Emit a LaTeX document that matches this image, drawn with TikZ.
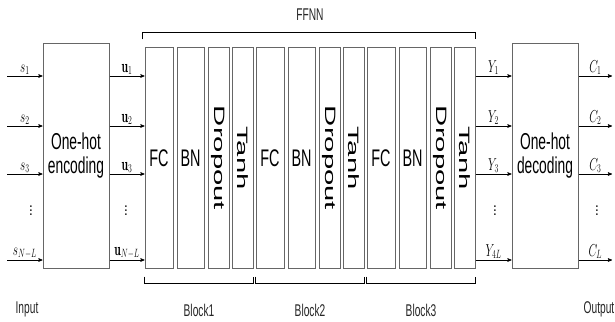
\documentclass[tikz,border=0pt]{standalone}
\usepackage{fontspec}
\usepackage{graphicx}
\usetikzlibrary{arrows,calc}
\newfontfamily\narrowsf[FakeStretch=0.6]{Liberation Sans}
\newfontfamily\tallsf[FakeStretch=1.95]{Liberation Sans}
\newcommand{\lbl}[1]{\scalebox{0.65}[1]{$#1$}}

\begin{document}
\begin{tikzpicture}[x=1pt,y=-1pt,>=stealth',semithick,
  box/.style={draw=black!60,line width=1pt,inner sep=0pt,minimum height=224pt,align=center,font=\fontsize{23}{24}\narrowsf},
  layer/.style={draw=black!60,line width=1pt,inner sep=0pt,minimum height=220pt,font=\fontsize{24}{24}\narrowsf},
  vlayer/.style={layer,font=\fontsize{15}{15}\tallsf},
  lab/.style={inner sep=1pt,font=\fontsize{18}{18}\selectfont},
  dots/.style={inner sep=0pt,font=\fontsize{21}{21}\selectfont},
  txt/.style={inner sep=0pt,text=black!85,font=\fontsize{17}{17}\narrowsf}]
		\useasboundingbox (0,0) rectangle (615,321);
		\node[box,minimum width=66pt] (enc) at (76,156) {One-hot\\encoding};
		\node[box,minimum width=66pt] (dec) at (545,156) {One-hot\\decoding};
		
		% three blocks of layers
		\foreach \b in {1,2,3} {
			\pgfmathsetmacro{\off}{(\b-1)*111}
			\node[layer,minimum width=28pt] (fc\b) at (159+\off,158) {FC};
			\node[layer,minimum width=27pt] (bn\b) at (190.5+\off,158) {BN};
			\node[vlayer,minimum width=21pt] (do\b) at (218.5+\off,158) {\rotatebox{-90}{Dropout}};
			\node[vlayer,minimum width=21pt] (th\b) at (242.5+\off,158) {\rotatebox{-90}{Tanh}};
			\draw ([yshift=-8pt]fc\b.south west) -- ([yshift=-15pt]fc\b.south west)
				-- ([yshift=-15pt]th\b.south east) -- ([yshift=-8pt]th\b.south east);
			\node[txt] (blk\b) at ($(fc\b.south west)!0.5!(th\b.south east)+(0,42)$) {Block\b};
		}
		\draw ([shift={(-2pt,8pt)}]fc1.north west) -- ([shift={(-2pt,15pt)}]fc1.north west)
			-- ([yshift=15pt]th3.north east) -- ([yshift=8pt]th3.north east);
		\node[txt] (ffnn) at (310,15) {FFNN};
		
		% connectors
		\foreach \y/\s/\u/\v/\c [count=\i] in {76/s_1/\mathbf{u}_1/Y_1/C_1,
				126/s_2/\mathbf{u}_2/Y_2/C_2, 174/s_3/\mathbf{u}_3/Y_3/C_3,
				260/s_{N-L}/\mathbf{u}_{N-L}/Y_{4L}/C_L} {
			\coordinate (in\i) at (7,\y);
			\coordinate (out\i) at (612,\y);
			\path[->] (in\i) edge node[lab,above] {\lbl{\s}} (in\i -| enc.west);
			\path[->] (enc.east |- in\i) edge node[lab,above] {\lbl{\u}} (fc1.west |- in\i);
			\path[->] (th3.east |- in\i) edge node[lab,above] {\lbl{\v}} (dec.west |- in\i);
			\path[->] (dec.east |- in\i) edge node[lab,above] {\lbl{\c}} (out\i);
		}
		\foreach \x [count=\i] in {31,126,495,597}
			\node[dots] (dots\i) at (\x,208) {$\vdots$};
		
		\node[txt] (inp) at (27,309) {Input};
		\node[txt] (outp) at (599,309) {Output};
\end{tikzpicture}
\end{document}
